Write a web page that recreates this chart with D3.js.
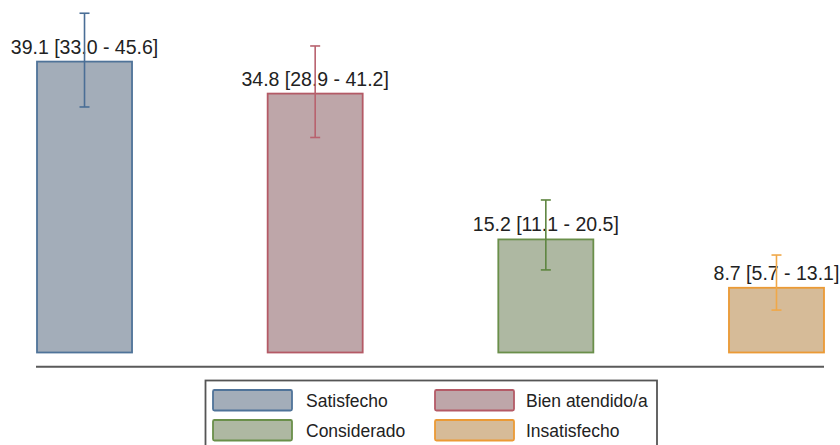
<!DOCTYPE html>
<html>
<head>
<meta charset="utf-8">
<script src="https://cdn.jsdelivr.net/npm/d3@7"></script>
<style>
  html, body { margin: 0; padding: 0; background: #fff; }
  svg { display: block; }
  text { font-family: "Liberation Sans", Arial, sans-serif; fill: #222; }
</style>
</head>
<body>
<svg id="chart" width="840" height="445"></svg>
<script>
const categories = ["Satisfecho", "Bien atendido/a", "Considerado", "Insatisfecho"];
const values = [39.1, 34.8, 15.2, 8.7];
const lower = [33.0, 28.9, 11.1, 5.7];
const upper = [45.6, 41.2, 20.5, 13.1];
const fills = ["#a3adb9", "#bea6a9", "#aeb8a2", "#d6bb98"];
const strokes = ["#4f7399", "#b45a66", "#6a8f4a", "#eb9a35"];
const errColors = ["#4a6e96", "#b8626e", "#5e8540", "#f0a848"];

const data = categories.map((c, i) => ({
  cat: c, v: values[i], lo: lower[i], hi: upper[i],
  fill: fills[i], stroke: strokes[i], err: errColors[i]
}));

const svg = d3.select("#chart");
const x = d3.scaleBand().domain(categories).range([37, 824]).paddingInner(0.588).paddingOuter(0);
const y = d3.scaleLinear().domain([0, 10]).range([352.5, 278.1]);

// bars
svg.selectAll("rect.bar").data(data).join("rect")
  .attr("class", "bar")
  .attr("x", d => x(d.cat))
  .attr("y", d => y(d.v))
  .attr("width", x.bandwidth())
  .attr("height", d => y(0) - y(d.v))
  .attr("fill", d => d.fill)
  .attr("stroke", d => d.stroke)
  .attr("stroke-width", 1.8);

// labels
svg.selectAll("text.lbl").data(data).join("text")
  .attr("class", "lbl")
  .attr("x", d => x(d.cat) + x.bandwidth() / 2)
  .attr("y", d => y(d.v) - 8)
  .attr("text-anchor", "middle")
  .attr("font-size", 19.5)
  .text(d => `${d.v.toFixed(1)} [${d.lo.toFixed(1)} - ${d.hi.toFixed(1)}]`);

// error bars
const eg = svg.selectAll("g.err").data(data).join("g").attr("class", "err")
  .attr("stroke", d => d.err).attr("stroke-width", 1.6);
eg.append("line")
  .attr("x1", d => x(d.cat) + x.bandwidth() / 2)
  .attr("x2", d => x(d.cat) + x.bandwidth() / 2)
  .attr("y1", d => y(d.lo)).attr("y2", d => y(d.hi));
eg.append("line")
  .attr("x1", d => x(d.cat) + x.bandwidth() / 2 - 5)
  .attr("x2", d => x(d.cat) + x.bandwidth() / 2 + 5)
  .attr("y1", d => y(d.hi)).attr("y2", d => y(d.hi));
eg.append("line")
  .attr("x1", d => x(d.cat) + x.bandwidth() / 2 - 5)
  .attr("x2", d => x(d.cat) + x.bandwidth() / 2 + 5)
  .attr("y1", d => y(d.lo)).attr("y2", d => y(d.lo));

// axis line
svg.append("line")
  .attr("x1", 36).attr("x2", 824)
  .attr("y1", 366.7).attr("y2", 366.7)
  .attr("stroke", "#5a5a5a").attr("stroke-width", 2);

// legend
const lg = svg.append("g");
lg.append("rect")
  .attr("x", 205.5).attr("y", 380.5).attr("width", 451.5).attr("height", 80)
  .attr("fill", "#fff").attr("stroke", "#555").attr("stroke-width", 1.8);
const cols = [213, 435];
const textX = [306, 526];
const rows = [390, 420];
const items = lg.selectAll("g.li").data(data).join("g").attr("class", "li");
items.append("rect")
  .attr("x", (d, i) => cols[i % 2])
  .attr("y", (d, i) => rows[Math.floor(i / 2)])
  .attr("width", 79).attr("height", 20.5)
  .attr("rx", 1.5)
  .attr("fill", d => d.fill).attr("stroke", d => d.stroke).attr("stroke-width", 1.8);
items.append("text")
  .attr("x", (d, i) => textX[i % 2])
  .attr("y", (d, i) => rows[Math.floor(i / 2)] + 17)
  .attr("font-size", 17.5)
  .text(d => d.cat);
</script>
</body>
</html>
